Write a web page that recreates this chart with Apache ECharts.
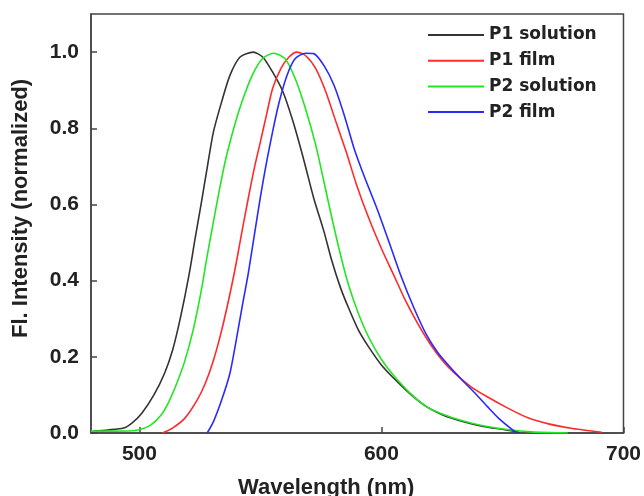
<!DOCTYPE html>
<html>
<head>
<meta charset="utf-8">
<script src="https://cdn.jsdelivr.net/npm/echarts@6/dist/echarts.min.js"></script>
<style>html,body{margin:0;padding:0;background:#fff;}#c{width:644px;height:496px;}</style>
</head>
<body>
<div id="c"></div>
<script>
const seriesNames = ['P1 solution', 'P1 film', 'P2 solution', 'P2 film'];
const xTicks = [500, 600, 700];
const yTicks = [0, 0.2, 0.4, 0.6, 0.8, 1.0];

const p1SolX = [481, 487, 493.5, 496.9, 501, 506, 510.4, 513.7, 517, 520.5, 523, 525.6, 528, 530.6, 534, 537.4, 541.6, 547, 550.9, 555, 559.3, 563.5, 567.7, 572, 576.2, 579.5, 583, 586.3, 590.5, 594.7, 599.8, 604.9, 611.6, 618.4, 625.1, 633.5, 642, 650.4, 657];
const p1SolY = [0.005, 0.008, 0.013, 0.026, 0.052, 0.1, 0.157, 0.217, 0.304, 0.415, 0.51, 0.605, 0.696, 0.791, 0.87, 0.939, 0.987, 1.0, 0.987, 0.948, 0.896, 0.817, 0.722, 0.617, 0.53, 0.452, 0.383, 0.33, 0.27, 0.226, 0.18, 0.145, 0.104, 0.07, 0.048, 0.03, 0.017, 0.009, 0.002];

const p2SolX = [480, 490, 497, 500.2, 504.5, 508.7, 512, 515.4, 518.8, 522.2, 525.6, 528, 530.6, 533.1, 535.7, 539, 542.4, 546.6, 550.9, 555.4, 560.1, 564.4, 568.6, 572.8, 576.2, 579.5, 583, 586.3, 590.5, 594.7, 599.8, 604.9, 611.6, 618.4, 625.1, 633.5, 642, 652, 662, 677];
const p2SolY = [0.005, 0.005, 0.006, 0.009, 0.02, 0.045, 0.08, 0.13, 0.19, 0.27, 0.375, 0.465, 0.555, 0.64, 0.72, 0.8, 0.87, 0.939, 0.983, 0.997, 0.983, 0.93, 0.852, 0.757, 0.661, 0.565, 0.47, 0.391, 0.313, 0.252, 0.195, 0.152, 0.106, 0.07, 0.05, 0.032, 0.019, 0.009, 0.003, 0];

const p1FilmX = [509.5, 513.7, 518.8, 523.9, 527.2, 530.6, 534, 537.4, 539.9, 542.4, 545, 547.5, 550, 552.5, 555, 558.5, 561.8, 565, 568.6, 572.8, 577, 581.2, 585.4, 589.7, 594.7, 599.8, 604.9, 609.9, 615, 620, 625.1, 630.2, 636.9, 643.7, 652, 660.5, 669, 679, 691];
const p1FilmY = [0, 0.013, 0.039, 0.087, 0.13, 0.191, 0.27, 0.365, 0.443, 0.53, 0.617, 0.696, 0.765, 0.835, 0.904, 0.957, 0.987, 1.0, 0.991, 0.957, 0.896, 0.817, 0.739, 0.652, 0.565, 0.487, 0.417, 0.348, 0.287, 0.235, 0.191, 0.157, 0.122, 0.095, 0.066, 0.04, 0.024, 0.012, 0.002];

const p2FilmX = [528, 530.6, 534, 537.4, 539.9, 542.4, 545, 547.5, 550, 552.5, 555, 557.6, 561, 564.4, 568.6, 572, 576.2, 580.4, 584.6, 588.8, 593, 598.1, 603.2, 608.2, 613.3, 618.4, 623.4, 628.5, 633.5, 638.6, 643.7, 648.7, 653.8, 656];
const p2FilmY = [0, 0.03, 0.087, 0.157, 0.24, 0.33, 0.42, 0.52, 0.62, 0.71, 0.79, 0.865, 0.939, 0.983, 0.997, 0.996, 0.965, 0.913, 0.835, 0.745, 0.672, 0.59, 0.5, 0.41, 0.33, 0.26, 0.21, 0.172, 0.138, 0.105, 0.07, 0.037, 0.01, 0];

const colors = ['#333333', '#ff2a2a', '#22e622', '#2a2aff'];

function pairs(xs, ys) { return xs.map((x, i) => [x, ys[i]]); }
const dataSets = [pairs(p1SolX, p1SolY), pairs(p1FilmX, p1FilmY), pairs(p2SolX, p2SolY), pairs(p2FilmX, p2FilmY)];

const axisFont = 'Liberation Sans, Arial, sans-serif';
const chart = echarts.init(document.getElementById('c'), null, {renderer: 'canvas'});
chart.setOption({
  animation: false,
  backgroundColor: '#fff',
  grid: {left: 91, right: 18, top: 14, bottom: 63, show: true, borderColor: '#444', borderWidth: 1.5, backgroundColor: 'transparent'},
  xAxis: {
    type: 'value', min: 480, max: 700,
    axisLine: {show: true, lineStyle: {color: '#444', width: 1.5}},
    axisTick: {show: true, inside: true, length: 6, customValues: xTicks, lineStyle: {color: '#444', width: 1.5}},
    axisLabel: {customValues: xTicks, margin: 11, color: '#222', fontFamily: axisFont, fontWeight: 'bold', fontSize: 21},
    splitLine: {show: false}
  },
  yAxis: {
    type: 'value', min: 0, max: 1.1,
    axisLine: {show: true, lineStyle: {color: '#444', width: 1.5}},
    axisTick: {show: true, inside: true, length: 6, customValues: yTicks, lineStyle: {color: '#444', width: 1.5}},
    axisLabel: {customValues: yTicks, margin: 12, color: '#222', fontFamily: axisFont, fontWeight: 'bold', fontSize: 21,
      formatter: v => v.toFixed(1)},
    splitLine: {show: false}
  },
  legend: {
    orient: 'vertical', left: 428, top: 26, padding: 0, itemWidth: 56, itemHeight: 2, itemGap: 7.7,
    icon: 'rect',
    data: seriesNames,
    textStyle: {fontFamily: 'DejaVu Sans', fontWeight: 'bold', fontSize: 17, color: '#222', lineHeight: 18}
  },
  graphic: [
    {type: 'text', left: 238, top: 477, style: {text: 'Wavelength (nm)', font: 'bold 22px ' + axisFont, fill: '#222'}},
    {type: 'text', rotation: Math.PI / 2, x: 10, y: 338, style: {text: 'Fl. Intensity (normalized)', font: 'bold 22px ' + axisFont, fill: '#222', textVerticalAlign: 'top'}}
  ],
  series: seriesNames.map((n, i) => ({
    name: n, type: 'line', data: dataSets[i], symbol: 'none', smooth: 0.25,
    lineStyle: {color: colors[i], width: 1.6}, itemStyle: {color: colors[i]}
  }))
});
</script>
</body>
</html>
